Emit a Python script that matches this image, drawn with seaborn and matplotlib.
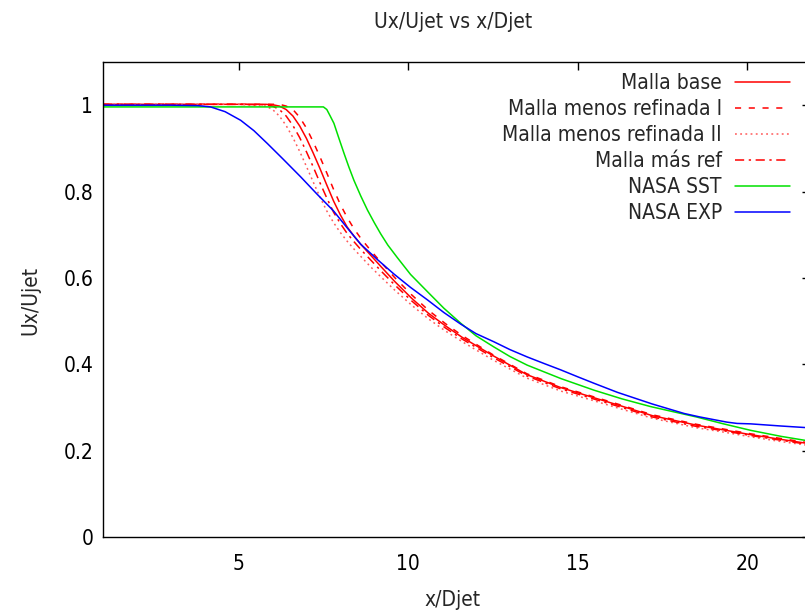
import matplotlib
matplotlib.use("Agg")
import matplotlib.pyplot as plt
from matplotlib import font_manager as fm
from matplotlib.ticker import FuncFormatter, FixedLocator
import seaborn as sns
import pandas as pd

# ---------------- data ----------------
x_red = [1, 5, 5.8, 6.0, 6.2, 6.4, 6.6, 6.8, 7.0, 7.2, 7.4, 7.6, 7.8, 8.0, 8.2,
         8.4, 8.6, 8.9, 9.2, 9.6, 10.1, 10.6, 11.1, 11.6, 12.5, 13.5, 14.5,
         15.5, 16.3, 17.2, 18.5, 19.3, 20.1, 21.0, 22.0]
y_base = [1.002, 1.002, 1.002, 1.001, 0.998, 0.990, 0.975, 0.952, 0.923, 0.889,
          0.853, 0.815, 0.778, 0.746, 0.718, 0.697, 0.678, 0.652, 0.626, 0.592,
          0.553, 0.518, 0.489, 0.462, 0.420, 0.376, 0.346, 0.322, 0.303, 0.281,
          0.259, 0.248, 0.237, 0.226, 0.214]
y_ref1 = [1.002, 1.002, 1.002, 1.002, 1.002, 0.998, 0.990, 0.972, 0.947, 0.915,
          0.880, 0.843, 0.805, 0.770, 0.740, 0.714, 0.692, 0.663, 0.636, 0.601,
          0.561, 0.525, 0.494, 0.466, 0.422, 0.378, 0.348, 0.324, 0.305, 0.283,
          0.261, 0.250, 0.239, 0.228, 0.216]
y_ref2 = [1.002, 1.002, 0.998, 0.990, 0.975, 0.953, 0.925, 0.893, 0.858, 0.822,
          0.787, 0.755, 0.728, 0.705, 0.685, 0.667, 0.650, 0.625, 0.602, 0.572,
          0.537, 0.505, 0.477, 0.452, 0.410, 0.368, 0.338, 0.315, 0.296, 0.275,
          0.253, 0.243, 0.232, 0.221, 0.210]
y_mas = [1.002, 1.002, 1.001, 0.998, 0.990, 0.975, 0.953, 0.925, 0.892, 0.857,
         0.820, 0.785, 0.752, 0.726, 0.703, 0.684, 0.666, 0.641, 0.616, 0.584,
         0.547, 0.513, 0.484, 0.458, 0.416, 0.373, 0.343, 0.319, 0.300, 0.278,
         0.256, 0.246, 0.235, 0.224, 0.212]

x_sst = [1, 7.5, 7.6, 7.7, 7.81, 7.95, 8.11, 8.25, 8.4, 8.6, 8.8, 9.0, 9.19,
         9.4, 9.68, 10.07, 10.57, 11.05, 11.55, 12.0, 12.53, 13.0, 13.51, 14.5,
         15.48, 16.3, 17.15, 18.5, 19.3, 20.1, 21.0, 22.0]
y_sst = [0.996, 0.996, 0.990, 0.975, 0.958, 0.925, 0.888, 0.857, 0.826, 0.790,
         0.757, 0.728, 0.702, 0.676, 0.647, 0.608, 0.568, 0.530, 0.495, 0.466,
         0.440, 0.418, 0.398, 0.367, 0.340, 0.320, 0.302, 0.278, 0.262, 0.247,
         0.233, 0.220]

x_exp = [1, 3, 3.8, 4.17, 4.6, 5.06, 5.45, 5.85, 6.3, 6.83, 7.3, 7.8, 8.2, 8.6,
         9.1, 9.58, 10.07, 10.57, 11.05, 11.55, 12.0, 12.53, 13.0, 13.51, 14.0,
         14.5, 15.0, 15.48, 16.17, 17.2, 18.14, 18.6, 19.0, 19.4, 19.7, 20.1,
         21.0, 22.0]
y_exp = [1.0, 1.0, 0.999, 0.996, 0.985, 0.965, 0.941, 0.911, 0.876, 0.834,
         0.795, 0.755, 0.716, 0.678, 0.642, 0.609, 0.578, 0.549, 0.520, 0.493,
         0.471, 0.452, 0.434, 0.417, 0.402, 0.387, 0.371, 0.356, 0.335, 0.308,
         0.286, 0.278, 0.272, 0.266, 0.263, 0.262, 0.257, 0.252]

labels = ["Malla base", "Malla menos refinada I", "Malla menos refinada II",
          "Malla más ref", "NASA SST", "NASA EXP"]
x_ticks = [5, 10, 15, 20]
y_ticks = [0, 0.2, 0.4, 0.6, 0.8, 1.0]

# ---------------- style ----------------
sns.set_style("white")
cond = any(f.name == "DejaVu Sans" and f.stretch == "condensed"
           for f in fm.fontManager.ttflist)
if cond:
    FS = 15
    plt.rcParams["font.stretch"] = "condensed"
else:
    FS = 13.5
plt.rcParams["font.family"] = ["DejaVu Sans"]

fig = plt.figure(figsize=(8.05, 6.15), dpi=100)
ax = fig.add_axes([103 / 805, 78 / 615, 707 / 805, 475 / 615])

series = [
    (x_red, y_base, "#ff0000", "-"),
    (x_red, y_ref1, "#ff0000", (0, (4, 5))),
    (x_red, y_ref2, "#ff5a5a", (0, (1.2, 2.2))),
    (x_red, y_mas, "#ff0000", (0, (6, 3, 1.5, 3))),
    (x_sst, y_sst, "#00e000", "-"),
    (x_exp, y_exp, "#0000ff", "-"),
]
for (xs, ys, c, ls), lab in zip(series, labels):
    df = pd.DataFrame({"x": xs, "y": ys})
    sns.lineplot(data=df, x="x", y="y", ax=ax, color=c, linestyle=ls,
                 linewidth=1.1, label=lab, sort=False, estimator=None)

ax.set_xlim(1, 21.85)
ax.set_ylim(0, 1.1)
ax.xaxis.set_major_locator(FixedLocator(x_ticks))
ax.yaxis.set_major_locator(FixedLocator(y_ticks))
ax.yaxis.set_major_formatter(FuncFormatter(lambda v, p: "%g" % v))
ax.tick_params(direction="in", length=6, width=1, top=True, right=True,
               labelsize=FS, colors="black")
ax.tick_params(axis="x", pad=12)
ax.tick_params(axis="y", pad=7)
for s in ax.spines.values():
    s.set_visible(True)
    s.set_color("black")
    s.set_linewidth(1.0)

ax.set_xlabel("x/Djet", fontsize=FS)
ax.set_ylabel("Ux/Ujet", fontsize=FS)
ax.xaxis.set_label_coords((453 - 103) / 707, (537 - 600) / 475)
ax.xaxis.label.set_va("center")
ax.yaxis.set_label_coords((30 - 103) / 707, (537 - 300) / 475)
ax.yaxis.label.set_va("center")
ax.text((453 - 103) / 707, (537 - 22) / 475, "Ux/Ujet vs x/Djet",
        transform=ax.transAxes, ha="center", va="center", fontsize=FS)

leg = ax.legend(loc="upper right", bbox_to_anchor=((790 - 103) / 707, (537 - 73) / 475),
                frameon=False, markerfirst=False, fontsize=FS, borderpad=0,
                borderaxespad=0, handlelength=2.65, handletextpad=0.62,
                labelspacing=0.29)
for col in leg._legend_handle_box.get_children():
    col.align = "right"

fig.savefig("out.png", dpi=100)
